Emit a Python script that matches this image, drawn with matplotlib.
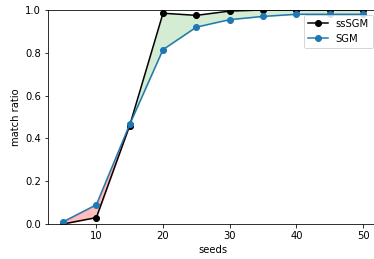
import numpy as np
import matplotlib.pyplot as plt

# seeds vs match ratio
seeds = [5, 10, 15, 20, 25, 30, 35, 40, 45, 50]
ss_sgm = [0.0, 0.03, 0.46, 0.985, 0.975, 0.995, 1.0, 1.0, 1.0, 1.0]
sgm = [0.01, 0.09, 0.465, 0.815, 0.92, 0.955, 0.97, 0.98, 0.98, 0.98]

fig = plt.figure(figsize=(374 / 72, 259 / 72), dpi=72)
# the original was cropped on the right, so the axes run past the edge
ax = fig.add_axes([48 / 374, 35 / 259, 330 / 374, 214 / 259])

x = np.array(seeds)
a = np.array(ss_sgm)
b = np.array(sgm)

# shade where one method beats the other
ax.fill_between(x, a, b, where=a >= b, interpolate=True, color='tab:green', alpha=0.2)
ax.fill_between(x, a, b, where=a <= b, interpolate=True, color='red', alpha=0.25)

ax.plot(x, a, 'o-', color='black', label='ssSGM')
ax.plot(x, b, 'o-', color='tab:blue', label='SGM')

ax.set_ylim(0, 1)
ax.set_xticks([10, 20, 30, 40, 50])
ax.set_xlabel('seeds')
ax.set_ylabel('match ratio')
ax.spines['right'].set_visible(False)
ax.legend(loc='upper right')

fig.savefig('out.png', dpi=72)
